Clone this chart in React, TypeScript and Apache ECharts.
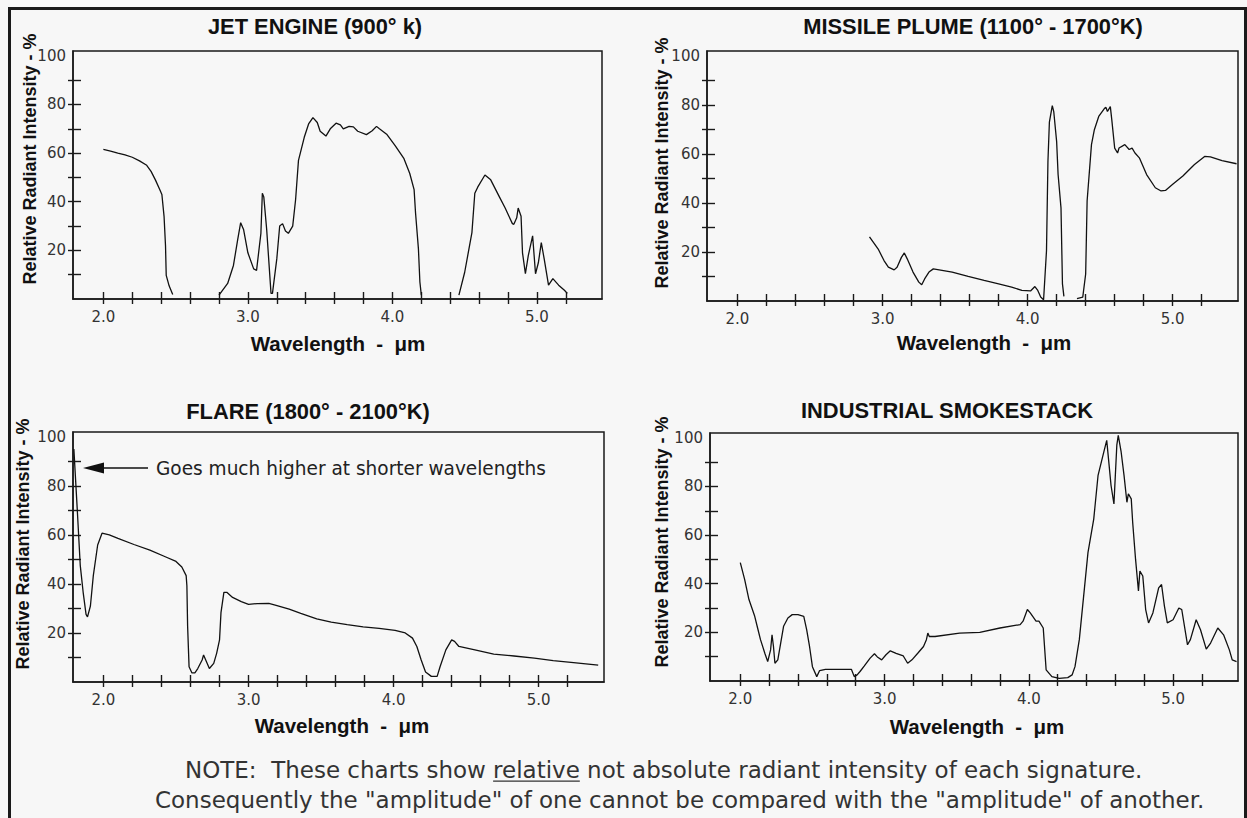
import React, { useEffect, useRef } from "react";
import * as echarts from "echarts";

// ---------- data ----------
const chartTitles = [
  "JET ENGINE (900° k)",
  "MISSILE PLUME (1100° - 1700°K)",
  "FLARE (1800° - 2100°K)",
  "INDUSTRIAL SMOKESTACK",
];
const yAxisTitle = "Relative Radiant Intensity - %";
const xAxisTitle = "Wavelength  -  μm";
const xTickValues = [2.0, 2.2, 2.4, 2.6, 2.8, 3.0, 3.2, 3.4, 3.6, 3.8, 4.0, 4.2, 4.4, 4.6, 4.8, 5.0, 5.2];
const xLabelValues = [2.0, 3.0, 4.0, 5.0];
const yTickValues = [10, 20, 30, 40, 50, 60, 70, 80, 90];
const yLabelValues = [20, 40, 60, 80, 100];
const flareNote = "Goes much higher at shorter wavelengths";
const noteLine1 = "NOTE:  These charts show relative not absolute radiant intensity of each signature.";
const notePrefix = "NOTE:  These charts show ";
const noteUnderlined = "relative";
const noteLine2 = 'Consequently the "amplitude" of one cannot be compared with the "amplitude" of another.';

// null = gap in the curve
const jetX = [
  2.0, 2.05, 2.1, 2.15, 2.2, 2.25, 2.3, 2.33, 2.36, 2.39, 2.405, 2.42, 2.43, 2.435, 2.455, 2.48, null,
  2.8, 2.86, 2.9, 2.93, 2.95, 2.97, 3.0, 3.04, 3.06, 3.09, 3.1, 3.11, 3.13, 3.16, 3.17, 3.2, 3.22, 3.24, 3.26, 3.28,
  3.31, 3.33, 3.35, 3.39, 3.42, 3.45, 3.48, 3.5, 3.54, 3.57, 3.61, 3.64, 3.66, 3.7, 3.73, 3.76, 3.82, 3.86, 3.89,
  3.91, 3.96, 4.02, 4.08, 4.12, 4.15, 4.16, 4.18, 4.19, 4.2, null,
  4.46, 4.5, 4.55, 4.57, 4.59, 4.64, 4.68, 4.74, 4.78, 4.83, 4.84, 4.86, 4.87, 4.89, 4.9, 4.92, 4.94, 4.97, 4.99,
  5.01, 5.03, 5.05, 5.08, 5.11, 5.15, 5.19, 5.21,
];
const jetY = [
  61.5, 60.8, 60, 59.3, 58.3, 56.8, 55, 52.5, 49, 45, 43, 34, 22, 9.7, 5.4, 1.9, null,
  1.6, 6.4, 13.8, 24.6, 31.4, 28.6, 19, 12.4, 11.8, 27, 43.5, 42, 28.6, 2.3, 2.3, 16.5, 30, 31, 28, 27,
  30, 40.8, 57, 66.5, 72, 74.6, 72.6, 69, 67, 70, 72.3, 71.6, 70, 71, 70.8, 69, 67.6, 69.2, 71,
  70, 67.8, 63, 57.7, 51.6, 45, 35.4, 20.5, 7, 1.6, null,
  1.6, 11, 27.3, 43.5, 46, 51, 49, 42, 37.4, 31, 30.7, 33.4, 37.4, 34, 19, 10.4, 17.8, 26, 10.4,
  15, 23.2, 16.5, 5.7, 8.4, 5.7, 3.6, 2.3,
];

const missileX = [
  2.91, 2.97, 3.01, 3.04, 3.08, 3.1, 3.13, 3.15, 3.17, 3.21, 3.25, 3.27, 3.29, 3.32, 3.35, 3.39, 3.48, 3.59, 3.7,
  3.8, 3.89, 3.96, 4.02, 4.05, 4.07, 4.09, 4.11, 4.13, 4.14, 4.15, 4.17, 4.18, 4.2, 4.21, 4.23, 4.24, 4.25, null,
  4.34, 4.38, 4.4, 4.41, 4.44, 4.46, 4.49, 4.53, 4.54, 4.55, 4.57, 4.58, 4.6, 4.62, 4.63, 4.67, 4.7, 4.72, 4.74,
  4.77, 4.82, 4.88, 4.92, 4.95, 5.0, 5.07, 5.15, 5.22, 5.26, 5.34, 5.44,
];
const missileY = [
  26.2, 21.2, 16.5, 13.8, 12.7, 13.8, 17.8, 19.6, 17.2, 11.8, 7.7, 6.6, 9, 11.8, 13.1, 12.7, 11.8, 10, 8.4,
  7, 5.7, 4.3, 4.1, 5.9, 4.3, 1.6, 0.5, 20.5, 57, 73, 79.7, 77.3, 65, 51.6, 38, 7, 1.9, null,
  1, 1.6, 11, 40.8, 63.8, 69.9, 75.3, 78.6, 79, 77.3, 79.3, 74, 62.4, 60.4, 62.4, 63.8, 61.8, 62.4, 60.4,
  58.4, 51.6, 46.2, 44.9, 45.1, 47.6, 51, 55.7, 59, 58.8, 57.3, 56,
];

const flareX = [
  1.796, 1.82, 1.84, 1.86, 1.88, 1.89, 1.91, 1.93, 1.96, 1.99, 2.04, 2.1, 2.21, 2.32, 2.43, 2.5, 2.54, 2.57,
  2.575, 2.58, 2.59, 2.61, 2.63, 2.65, 2.68, 2.69, 2.71, 2.73, 2.76, 2.78, 2.8, 2.81, 2.83, 2.85, 2.89, 2.95,
  3.0, 3.06, 3.14, 3.19, 3.28, 3.36, 3.47, 3.57, 3.68, 3.79, 3.9, 4.01, 4.08, 4.13, 4.16, 4.19, 4.22, 4.26,
  4.3, 4.32, 4.36, 4.4, 4.42, 4.45, 4.56, 4.69, 4.83, 4.97, 5.1, 5.24, 5.41,
];
const flareY = [
  95, 69.7, 47.6, 36.6, 27.6, 26.6, 31, 43.4, 55.9, 60.7, 60, 58.6, 56.1, 53.8, 51, 49.2, 46.9, 43.4,
  39.3, 22.8, 6.2, 3.7, 3.7, 5.5, 9, 11, 8.3, 5.5, 7.6, 11.7, 17.2, 28.3, 36.6, 36.6, 34.5, 32.8,
  31.7, 32, 32.1, 31.3, 29.7, 28, 25.8, 24.4, 23.4, 22.5, 21.9, 21.1, 20, 17.9, 14.5, 9, 4.1, 2.3,
  2.3, 6.2, 13.1, 17.2, 16.6, 14.5, 13.1, 11.4, 10.6, 9.7, 8.7, 7.9, 6.9,
];

const smokeX = [
  2.0, 2.03, 2.06, 2.1, 2.12, 2.14, 2.17, 2.19, 2.21, 2.22,
  2.23, 2.24, 2.26, 2.28, 2.3, 2.33, 2.36, 2.4, 2.44, 2.46,
  2.48, 2.5, 2.53, 2.55, 2.59, 2.66, 2.77, 2.79, 2.81, 2.83,
  2.86, 2.9, 2.93, 2.95, 2.98, 3.01, 3.04, 3.08, 3.13, 3.16,
  3.19, 3.23, 3.27, 3.29, 3.3, 3.31, 3.35, 3.52, 3.66, 3.8,
  3.94, 3.96, 3.99, 4.01, 4.05, 4.07, 4.1, 4.12, 4.16, 4.21,
  4.27, 4.3, 4.32, 4.35, 4.38, 4.41, 4.45, 4.48, 4.52, 4.54,
  4.55, 4.57, 4.59, 4.61, 4.62, 4.64, 4.66, 4.68, 4.69, 4.71,
  4.72, 4.74, 4.76, 4.77, 4.79, 4.81, 4.83, 4.86, 4.9, 4.92,
  4.94, 4.96, 5.0, 5.04, 5.06, 5.1, 5.12, 5.16, 5.19, 5.23,
  5.26, 5.31, 5.35, 5.39, 5.41, 5.44,
];
const smokeY = [
  48.7, 41.8, 33.5, 26.6, 21.8, 17, 11.4, 8, 12.8, 19,
  14.2, 7.3, 8.7, 15.6, 22.5, 25.9, 27.3, 27.3, 26.6, 21.1,
  14.2, 5.9, 1.8, 4.3, 4.8, 4.8, 4.8, 1.8, 2.5, 3.9,
  6.2, 9.4, 11.2, 9.9, 8.7, 10.8, 12.4, 11.4, 10.3, 7.3,
  8.7, 11.4, 14.2, 17, 19.7, 18.3, 18.3, 19.7, 20, 21.8,
  23.2, 24.6, 29.4, 28, 24.6, 24.6, 21.8, 4.6, 1.8, 1.1,
  1.4, 2.5, 5.9, 17, 34.9, 52.8, 66.6, 84.6, 94.2, 99,
  92.8, 80.4, 72.8, 97, 101, 94.2, 84.6, 73.5, 77, 74.9,
  65.2, 50, 37, 45.2, 43.2, 29.4, 23.9, 28, 38.3, 39.7,
  30.8, 23.9, 25.2, 30, 29.4, 14.9, 17, 25.2, 21.1, 13.1,
  15.6, 21.8, 19, 12.8, 8.7, 8,
];

const curvesX = [jetX, missileX, flareX, smokeX];
const curvesY = [jetY, missileY, flareY, smokeY];

// ---------- layout ----------
const FONT = '"DejaVu Sans", "Liberation Sans", Arial, sans-serif';
const BOLD_FONT = '"Liberation Sans", Arial, "DejaVu Sans", sans-serif';
const BG = "#f7f7f7";
const INK = "#1a1a1a";
const X_MIN = 1.79;
const X_MAX = 5.45;
const Y_MAX = 102;

const gridBoxes = [
  { left: 73, top: 51, width: 529, height: 248 },
  { left: 707, top: 51, width: 531, height: 250 },
  { left: 73, top: 432, width: 531, height: 250 },
  { left: 710, top: 433, width: 528, height: 248 },
];
const titlePos = [
  { x: 315, y: 26, w: 214 },
  { x: 973, y: 26, w: 342 },
  { x: 308, y: 411, w: 246 },
  { x: 947, y: 410, w: 289 },
];
const yNamePos = [
  { x: 30, y: 159 },
  { x: 662, y: 163 },
  { x: 23, y: 544 },
  { x: 662, y: 542 },
];
const xNamePos = [
  { x: 338, y: 343 },
  { x: 984, y: 342 },
  { x: 342, y: 725 },
  { x: 977, y: 726 },
];

export default function App() {
  const ref = useRef<HTMLDivElement>(null);

  useEffect(() => {
    if (!ref.current) return;
    const chart = echarts.init(ref.current, null, { renderer: "svg" });

    const ctx = document.createElement("canvas").getContext("2d")!;
    const measure = (t: string, size: number, bold: boolean, family: string) => {
      ctx.font = `${bold ? "bold " : ""}${size}px ${family}`;
      return ctx.measureText(t).width;
    };
    const fit = (t: string, target: number, bold: boolean, family: string) =>
      (100 * target) / measure(t, 100, bold, family);

    const titleSize =
      titlePos.reduce((s, p, i) => s + fit(chartTitles[i], p.w, true, BOLD_FONT), 0) / titlePos.length;
    const yNameSize = fit(yAxisTitle, 251, true, BOLD_FONT);
    const xNameSize = Math.min(20.5, fit(xAxisTitle, 185, true, BOLD_FONT));
    const annSize = fit(flareNote, 390, false, FONT);
    const noteSize = (fit(noteLine1, 933, false, FONT) + fit(noteLine2, 1077, false, FONT)) / 2;

    const note1X = 185;
    const note1Y = 770;
    const preW = measure(notePrefix, noteSize, false, FONT);
    const relW = measure(noteUnderlined, noteSize, false, FONT);

    const xAxes: any[] = [];
    const yAxes: any[] = [];
    const series: any[] = [];
    const tickStyle = { color: INK, width: 1.4 };

    gridBoxes.forEach((_, gi) => {
      [false, true].forEach((inner) => {
        xAxes.push({
          type: "value",
          gridIndex: gi,
          min: X_MIN,
          max: X_MAX,
          position: "bottom",
          axisLine: { show: !inner, onZero: false, lineStyle: { color: INK, width: 1.5 } },
          axisTick: {
            show: true,
            inside: inner,
            length: inner ? 7 : 5,
            customValues: xTickValues,
            lineStyle: tickStyle,
          },
          axisLabel: inner
            ? { show: false }
            : {
                show: true,
                customValues: xLabelValues,
                formatter: (v: number) => Number(v).toFixed(1),
                margin: 10,
                color: "#333",
                fontSize: 15,
                fontFamily: FONT,
              },
          splitLine: { show: false },
        });
        yAxes.push({
          type: "value",
          gridIndex: gi,
          min: 0,
          max: Y_MAX,
          position: "left",
          axisLine: { show: !inner, onZero: false, lineStyle: { color: INK, width: 1.5 } },
          axisTick: {
            show: true,
            inside: inner,
            length: inner ? 8 : 5,
            customValues: yTickValues,
            lineStyle: tickStyle,
          },
          axisLabel: inner
            ? { show: false }
            : {
                show: true,
                customValues: yLabelValues,
                margin: 7,
                color: "#333",
                fontSize: 15,
                fontFamily: FONT,
              },
          splitLine: { show: false },
        });
      });
      const xs = curvesX[gi];
      const ys = curvesY[gi];
      series.push({
        type: "line",
        xAxisIndex: gi * 2,
        yAxisIndex: gi * 2,
        showSymbol: false,
        symbol: "none",
        connectNulls: false,
        silent: true,
        lineStyle: { color: "#111", width: 1.3 },
        data: xs.map((x, i) => (x === null || ys[i] === null ? ["-", "-"] : [x, ys[i]])),
      });
    });

    const graphics: any[] = [
      {
        type: "polyline",
        shape: { points: [[9.5, 830], [9.5, 8.5], [1245.5, 8.5], [1245.5, 830]] },
        style: { stroke: INK, lineWidth: 3, fill: null },
        silent: true,
      },
    ];
    chartTitles.forEach((t, i) => {
      graphics.push({
        type: "text",
        x: titlePos[i].x,
        y: titlePos[i].y,
        style: {
          text: t,
          fontSize: titleSize,
          fontWeight: "bold",
          fontFamily: BOLD_FONT,
          fill: "#111",
          align: "center",
          verticalAlign: "middle",
        },
      });
      graphics.push({
        type: "text",
        x: yNamePos[i].x,
        y: yNamePos[i].y,
        rotation: Math.PI / 2,
        style: {
          text: yAxisTitle,
          fontSize: yNameSize,
          fontWeight: "bold",
          fontFamily: BOLD_FONT,
          fill: "#111",
          align: "center",
          verticalAlign: "middle",
        },
      });
      graphics.push({
        type: "text",
        x: xNamePos[i].x,
        y: xNamePos[i].y,
        style: {
          text: xAxisTitle,
          fontSize: xNameSize,
          fontWeight: "bold",
          fontFamily: BOLD_FONT,
          fill: "#111",
          align: "center",
          verticalAlign: "middle",
        },
      });
    });

    // flare annotation arrow
    graphics.push(
      {
        type: "line",
        shape: { x1: 100, y1: 468, x2: 148, y2: 468 },
        style: { stroke: "#111", lineWidth: 1.3 },
      },
      {
        type: "polygon",
        shape: { points: [[83, 468], [104, 462.5], [104, 473.5]] },
        style: { fill: "#111" },
      },
      {
        type: "text",
        x: 156,
        y: 468,
        style: {
          text: flareNote,
          fontSize: annSize,
          fontFamily: FONT,
          fill: "#222",
          align: "left",
          verticalAlign: "middle",
        },
      }
    );

    // bottom note
    graphics.push(
      {
        type: "text",
        x: note1X,
        y: note1Y,
        style: {
          text: noteLine1,
          fontSize: noteSize,
          fontFamily: FONT,
          fill: "#333",
          align: "left",
          verticalAlign: "middle",
        },
      },
      {
        type: "line",
        shape: {
          x1: note1X + preW,
          y1: note1Y + noteSize * 0.48,
          x2: note1X + preW + relW,
          y2: note1Y + noteSize * 0.48,
        },
        style: { stroke: "#333", lineWidth: 1.2 },
      },
      {
        type: "text",
        x: 155,
        y: 800,
        style: {
          text: noteLine2,
          fontSize: noteSize,
          fontFamily: FONT,
          fill: "#333",
          align: "left",
          verticalAlign: "middle",
        },
      }
    );

    chart.setOption({
      animation: false,
      backgroundColor: BG,
      grid: gridBoxes.map((g) => ({
        ...g,
        show: true,
        borderColor: INK,
        borderWidth: 1.5,
        backgroundColor: "transparent",
        containLabel: false,
      })),
      xAxis: xAxes,
      yAxis: yAxes,
      series,
      graphic: graphics,
    });

    return () => chart.dispose();
  }, []);

  return (
    <div
      ref={ref}
      style={{ position: "fixed", left: 0, top: 0, width: 1247, height: 818, background: BG }}
    />
  );
}
